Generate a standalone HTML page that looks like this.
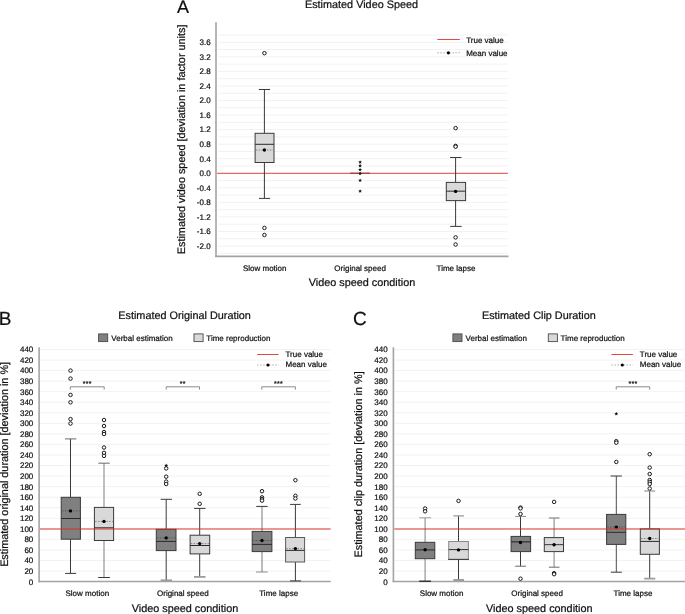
<!DOCTYPE html><html><head><meta charset="utf-8"><style>html,body{margin:0;padding:0;background:#fff;}svg{display:block;will-change:transform;}text{text-rendering:geometricPrecision;stroke:#111;stroke-width:0.22px;}</style></head><body>
<svg width="685" height="614" viewBox="0 0 685 614" font-family='"Liberation Sans", sans-serif'>
<rect width="685" height="614" fill="#fff"/>
<text x="177.10" y="13.20" font-size="18" text-anchor="start" fill="#111111" >A</text>
<text x="361.50" y="8.40" font-size="10.85" text-anchor="middle" fill="#111111" >Estimated Video Speed</text>
<line x1="218.00" y1="253.28" x2="508.00" y2="253.28" stroke="#f2f2f2" stroke-width="1" />
<line x1="218.00" y1="246.00" x2="508.00" y2="246.00" stroke="#f2f2f2" stroke-width="1" />
<line x1="218.00" y1="238.73" x2="508.00" y2="238.73" stroke="#f2f2f2" stroke-width="1" />
<line x1="218.00" y1="231.45" x2="508.00" y2="231.45" stroke="#f2f2f2" stroke-width="1" />
<line x1="218.00" y1="224.18" x2="508.00" y2="224.18" stroke="#f2f2f2" stroke-width="1" />
<line x1="218.00" y1="216.90" x2="508.00" y2="216.90" stroke="#f2f2f2" stroke-width="1" />
<line x1="218.00" y1="209.62" x2="508.00" y2="209.62" stroke="#f2f2f2" stroke-width="1" />
<line x1="218.00" y1="202.35" x2="508.00" y2="202.35" stroke="#f2f2f2" stroke-width="1" />
<line x1="218.00" y1="195.07" x2="508.00" y2="195.07" stroke="#f2f2f2" stroke-width="1" />
<line x1="218.00" y1="187.80" x2="508.00" y2="187.80" stroke="#f2f2f2" stroke-width="1" />
<line x1="218.00" y1="180.53" x2="508.00" y2="180.53" stroke="#f2f2f2" stroke-width="1" />
<line x1="218.00" y1="173.25" x2="508.00" y2="173.25" stroke="#f2f2f2" stroke-width="1" />
<line x1="218.00" y1="165.97" x2="508.00" y2="165.97" stroke="#f2f2f2" stroke-width="1" />
<line x1="218.00" y1="158.70" x2="508.00" y2="158.70" stroke="#f2f2f2" stroke-width="1" />
<line x1="218.00" y1="151.43" x2="508.00" y2="151.43" stroke="#f2f2f2" stroke-width="1" />
<line x1="218.00" y1="144.15" x2="508.00" y2="144.15" stroke="#f2f2f2" stroke-width="1" />
<line x1="218.00" y1="136.88" x2="508.00" y2="136.88" stroke="#f2f2f2" stroke-width="1" />
<line x1="218.00" y1="129.60" x2="508.00" y2="129.60" stroke="#f2f2f2" stroke-width="1" />
<line x1="218.00" y1="122.32" x2="508.00" y2="122.32" stroke="#f2f2f2" stroke-width="1" />
<line x1="218.00" y1="115.05" x2="508.00" y2="115.05" stroke="#f2f2f2" stroke-width="1" />
<line x1="218.00" y1="107.77" x2="508.00" y2="107.77" stroke="#f2f2f2" stroke-width="1" />
<line x1="218.00" y1="100.50" x2="508.00" y2="100.50" stroke="#f2f2f2" stroke-width="1" />
<line x1="218.00" y1="93.22" x2="508.00" y2="93.22" stroke="#f2f2f2" stroke-width="1" />
<line x1="218.00" y1="85.95" x2="508.00" y2="85.95" stroke="#f2f2f2" stroke-width="1" />
<line x1="218.00" y1="78.67" x2="508.00" y2="78.67" stroke="#f2f2f2" stroke-width="1" />
<line x1="218.00" y1="71.40" x2="508.00" y2="71.40" stroke="#f2f2f2" stroke-width="1" />
<line x1="218.00" y1="64.12" x2="508.00" y2="64.12" stroke="#f2f2f2" stroke-width="1" />
<line x1="218.00" y1="56.85" x2="508.00" y2="56.85" stroke="#f2f2f2" stroke-width="1" />
<line x1="218.00" y1="49.57" x2="508.00" y2="49.57" stroke="#f2f2f2" stroke-width="1" />
<line x1="218.00" y1="42.30" x2="508.00" y2="42.30" stroke="#f2f2f2" stroke-width="1" />
<line x1="218.00" y1="35.02" x2="508.00" y2="35.02" stroke="#f2f2f2" stroke-width="1" />
<text x="210.60" y="248.80" font-size="8" text-anchor="end" fill="#111111" >-2.0</text>
<text x="210.60" y="234.25" font-size="8" text-anchor="end" fill="#111111" >-1.6</text>
<text x="210.60" y="219.70" font-size="8" text-anchor="end" fill="#111111" >-1.2</text>
<text x="210.60" y="205.15" font-size="8" text-anchor="end" fill="#111111" >-0.8</text>
<text x="210.60" y="190.60" font-size="8" text-anchor="end" fill="#111111" >-0.4</text>
<text x="210.60" y="176.05" font-size="8" text-anchor="end" fill="#111111" >0.0</text>
<text x="210.60" y="161.50" font-size="8" text-anchor="end" fill="#111111" >0.4</text>
<text x="210.60" y="146.95" font-size="8" text-anchor="end" fill="#111111" >0.8</text>
<text x="210.60" y="132.40" font-size="8" text-anchor="end" fill="#111111" >1.2</text>
<text x="210.60" y="117.85" font-size="8" text-anchor="end" fill="#111111" >1.6</text>
<text x="210.60" y="103.30" font-size="8" text-anchor="end" fill="#111111" >2.0</text>
<text x="210.60" y="88.75" font-size="8" text-anchor="end" fill="#111111" >2.4</text>
<text x="210.60" y="74.20" font-size="8" text-anchor="end" fill="#111111" >2.8</text>
<text x="210.60" y="59.65" font-size="8" text-anchor="end" fill="#111111" >3.2</text>
<text x="210.60" y="45.10" font-size="8" text-anchor="end" fill="#111111" >3.6</text>
<text x="0" y="0" font-size="10.85" text-anchor="middle" fill="#111111" transform="translate(185.3,139.4) rotate(-90)">Estimated video speed [deviation in factor units]</text>
<line x1="216.00" y1="22.30" x2="216.00" y2="257.00" stroke="#a3a3a3" stroke-width="1.6" />
<line x1="215.20" y1="256.40" x2="508.50" y2="256.40" stroke="#a3a3a3" stroke-width="1.6" />
<line x1="350.00" y1="173.30" x2="370.00" y2="173.30" stroke="#444" stroke-width="1" />
<line x1="217.00" y1="173.30" x2="508.00" y2="173.30" stroke="#e4483f" stroke-width="1" />
<line x1="350.00" y1="173.30" x2="370.00" y2="173.30" stroke="#a8403a" stroke-width="1" />
<line x1="437.30" y1="39.50" x2="459.80" y2="39.50" stroke="#e4483f" stroke-width="1" />
<text x="466.20" y="42.60" font-size="8" text-anchor="start" fill="#111111" >True value</text>
<line x1="437.30" y1="52.80" x2="459.80" y2="52.80" stroke="#9a9a9a" stroke-width="0.8" stroke-dasharray="1.5 1.5"/>
<circle cx="448.40" cy="52.80" r="1.6" fill="#000" stroke="none" stroke-width="1"/>
<text x="466.20" y="55.70" font-size="8" text-anchor="start" fill="#111111" >Mean value</text>
<line x1="264.40" y1="89.50" x2="264.40" y2="133.30" stroke="#3a3a3a" stroke-width="1" />
<line x1="264.40" y1="162.50" x2="264.40" y2="198.40" stroke="#3a3a3a" stroke-width="1" />
<line x1="258.90" y1="89.50" x2="270.10" y2="89.50" stroke="#3a3a3a" stroke-width="1" />
<line x1="259.00" y1="198.40" x2="270.10" y2="198.40" stroke="#3a3a3a" stroke-width="1" />
<rect x="255.10" y="133.30" width="18.90" height="29.20" fill="#d9d9d9" stroke="#3a3a3a" stroke-width="1"/>
<line x1="255.10" y1="144.30" x2="274.00" y2="144.30" stroke="#2a2a2a" stroke-width="1" />
<line x1="255.90" y1="150.00" x2="273.20" y2="150.00" stroke="#777" stroke-width="0.9" stroke-dasharray="1.4 1.4"/>
<circle cx="264.40" cy="150.00" r="1.7" fill="#000" stroke="none" stroke-width="1"/>
<circle cx="264.40" cy="53.20" r="1.75" fill="#fff" stroke="#1a1a1a" stroke-width="1.0"/>
<circle cx="264.40" cy="227.90" r="1.75" fill="#fff" stroke="#1a1a1a" stroke-width="1.0"/>
<circle cx="264.40" cy="235.00" r="1.75" fill="#fff" stroke="#1a1a1a" stroke-width="1.0"/>
<polygon points="360.10,160.20 360.63,161.47 362.00,161.58 360.96,162.48 361.28,163.82 360.10,163.10 358.92,163.82 359.24,162.48 358.20,161.58 359.57,161.47" fill="#111"/>
<polygon points="360.10,163.80 360.63,165.07 362.00,165.18 360.96,166.08 361.28,167.42 360.10,166.70 358.92,167.42 359.24,166.08 358.20,165.18 359.57,165.07" fill="#111"/>
<polygon points="360.10,167.70 360.63,168.97 362.00,169.08 360.96,169.98 361.28,171.32 360.10,170.60 358.92,171.32 359.24,169.98 358.20,169.08 359.57,168.97" fill="#111"/>
<polygon points="360.10,171.50 360.63,172.77 362.00,172.88 360.96,173.78 361.28,175.12 360.10,174.40 358.92,175.12 359.24,173.78 358.20,172.88 359.57,172.77" fill="#111"/>
<polygon points="360.10,178.40 360.63,179.67 362.00,179.78 360.96,180.68 361.28,182.02 360.10,181.30 358.92,182.02 359.24,180.68 358.20,179.78 359.57,179.67" fill="#111"/>
<polygon points="360.10,189.20 360.63,190.47 362.00,190.58 360.96,191.48 361.28,192.82 360.10,192.10 358.92,192.82 359.24,191.48 358.20,190.58 359.57,190.47" fill="#111"/>
<line x1="455.60" y1="157.50" x2="455.60" y2="182.40" stroke="#3a3a3a" stroke-width="1" />
<line x1="455.60" y1="200.60" x2="455.60" y2="226.40" stroke="#3a3a3a" stroke-width="1" />
<line x1="450.10" y1="157.50" x2="461.50" y2="157.50" stroke="#3a3a3a" stroke-width="1" />
<line x1="450.20" y1="226.40" x2="461.70" y2="226.40" stroke="#3a3a3a" stroke-width="1" />
<rect x="446.30" y="182.40" width="19.30" height="18.20" fill="#d9d9d9" stroke="#3a3a3a" stroke-width="1"/>
<line x1="446.30" y1="191.20" x2="465.60" y2="191.20" stroke="#2a2a2a" stroke-width="1" />
<line x1="447.10" y1="191.40" x2="464.80" y2="191.40" stroke="#777" stroke-width="0.9" stroke-dasharray="1.4 1.4"/>
<circle cx="455.60" cy="191.40" r="1.7" fill="#000" stroke="none" stroke-width="1"/>
<circle cx="455.60" cy="128.10" r="1.75" fill="#fff" stroke="#1a1a1a" stroke-width="1.0"/>
<circle cx="455.60" cy="145.90" r="1.75" fill="#fff" stroke="#1a1a1a" stroke-width="1.0"/>
<circle cx="455.60" cy="146.70" r="1.75" fill="#fff" stroke="#1a1a1a" stroke-width="1.0"/>
<circle cx="455.60" cy="237.40" r="1.75" fill="#fff" stroke="#1a1a1a" stroke-width="1.0"/>
<circle cx="455.60" cy="244.50" r="1.75" fill="#fff" stroke="#1a1a1a" stroke-width="1.0"/>
<text x="264.70" y="270.50" font-size="8" text-anchor="middle" fill="#111111" >Slow motion</text>
<text x="360.10" y="270.50" font-size="8" text-anchor="middle" fill="#111111" >Original speed</text>
<text x="456.00" y="270.50" font-size="8" text-anchor="middle" fill="#111111" >Time lapse</text>
<text x="362.00" y="286.40" font-size="10.85" text-anchor="middle" fill="#111111" >Video speed condition</text>
<text x="-1.20" y="324.90" font-size="19" text-anchor="start" fill="#111111" >B</text>
<text x="184.60" y="319.10" font-size="10.85" text-anchor="middle" fill="#111111" >Estimated Original Duration</text>
<rect x="98.60" y="333.90" width="9.10" height="7.70" fill="#808080" stroke="#4a4a4a" stroke-width="0.9"/>
<text x="111.30" y="340.60" font-size="8" text-anchor="start" fill="#111111" >Verbal estimation</text>
<rect x="194.00" y="333.90" width="9.10" height="7.70" fill="#d9d9d9" stroke="#4a4a4a" stroke-width="0.9"/>
<text x="206.30" y="340.60" font-size="8" text-anchor="start" fill="#111111" >Time reproduction</text>
<line x1="40.00" y1="571.05" x2="330.50" y2="571.05" stroke="#f2f2f2" stroke-width="1" />
<line x1="40.00" y1="560.50" x2="330.50" y2="560.50" stroke="#f2f2f2" stroke-width="1" />
<line x1="40.00" y1="549.94" x2="330.50" y2="549.94" stroke="#f2f2f2" stroke-width="1" />
<line x1="40.00" y1="539.39" x2="330.50" y2="539.39" stroke="#f2f2f2" stroke-width="1" />
<line x1="40.00" y1="528.84" x2="330.50" y2="528.84" stroke="#f2f2f2" stroke-width="1" />
<line x1="40.00" y1="518.29" x2="330.50" y2="518.29" stroke="#f2f2f2" stroke-width="1" />
<line x1="40.00" y1="507.74" x2="330.50" y2="507.74" stroke="#f2f2f2" stroke-width="1" />
<line x1="40.00" y1="497.18" x2="330.50" y2="497.18" stroke="#f2f2f2" stroke-width="1" />
<line x1="40.00" y1="486.63" x2="330.50" y2="486.63" stroke="#f2f2f2" stroke-width="1" />
<line x1="40.00" y1="476.08" x2="330.50" y2="476.08" stroke="#f2f2f2" stroke-width="1" />
<line x1="40.00" y1="465.53" x2="330.50" y2="465.53" stroke="#f2f2f2" stroke-width="1" />
<line x1="40.00" y1="454.98" x2="330.50" y2="454.98" stroke="#f2f2f2" stroke-width="1" />
<line x1="40.00" y1="444.42" x2="330.50" y2="444.42" stroke="#f2f2f2" stroke-width="1" />
<line x1="40.00" y1="433.87" x2="330.50" y2="433.87" stroke="#f2f2f2" stroke-width="1" />
<line x1="40.00" y1="423.32" x2="330.50" y2="423.32" stroke="#f2f2f2" stroke-width="1" />
<line x1="40.00" y1="412.77" x2="330.50" y2="412.77" stroke="#f2f2f2" stroke-width="1" />
<line x1="40.00" y1="402.22" x2="330.50" y2="402.22" stroke="#f2f2f2" stroke-width="1" />
<line x1="40.00" y1="391.66" x2="330.50" y2="391.66" stroke="#f2f2f2" stroke-width="1" />
<line x1="40.00" y1="381.11" x2="330.50" y2="381.11" stroke="#f2f2f2" stroke-width="1" />
<line x1="40.00" y1="370.56" x2="330.50" y2="370.56" stroke="#f2f2f2" stroke-width="1" />
<line x1="40.00" y1="360.01" x2="330.50" y2="360.01" stroke="#f2f2f2" stroke-width="1" />
<line x1="40.00" y1="349.46" x2="330.50" y2="349.46" stroke="#f2f2f2" stroke-width="1" />
<text x="33.30" y="584.50" font-size="8" text-anchor="end" fill="#111111" >0</text>
<text x="33.30" y="573.95" font-size="8" text-anchor="end" fill="#111111" >20</text>
<text x="33.30" y="563.40" font-size="8" text-anchor="end" fill="#111111" >40</text>
<text x="33.30" y="552.84" font-size="8" text-anchor="end" fill="#111111" >60</text>
<text x="33.30" y="542.29" font-size="8" text-anchor="end" fill="#111111" >80</text>
<text x="33.30" y="531.74" font-size="8" text-anchor="end" fill="#111111" >100</text>
<text x="33.30" y="521.19" font-size="8" text-anchor="end" fill="#111111" >120</text>
<text x="33.30" y="510.64" font-size="8" text-anchor="end" fill="#111111" >140</text>
<text x="33.30" y="500.08" font-size="8" text-anchor="end" fill="#111111" >160</text>
<text x="33.30" y="489.53" font-size="8" text-anchor="end" fill="#111111" >180</text>
<text x="33.30" y="478.98" font-size="8" text-anchor="end" fill="#111111" >200</text>
<text x="33.30" y="468.43" font-size="8" text-anchor="end" fill="#111111" >220</text>
<text x="33.30" y="457.88" font-size="8" text-anchor="end" fill="#111111" >240</text>
<text x="33.30" y="447.32" font-size="8" text-anchor="end" fill="#111111" >260</text>
<text x="33.30" y="436.77" font-size="8" text-anchor="end" fill="#111111" >280</text>
<text x="33.30" y="426.22" font-size="8" text-anchor="end" fill="#111111" >300</text>
<text x="33.30" y="415.67" font-size="8" text-anchor="end" fill="#111111" >320</text>
<text x="33.30" y="405.12" font-size="8" text-anchor="end" fill="#111111" >340</text>
<text x="33.30" y="394.56" font-size="8" text-anchor="end" fill="#111111" >360</text>
<text x="33.30" y="384.01" font-size="8" text-anchor="end" fill="#111111" >380</text>
<text x="33.30" y="373.46" font-size="8" text-anchor="end" fill="#111111" >400</text>
<text x="33.30" y="362.91" font-size="8" text-anchor="end" fill="#111111" >420</text>
<text x="33.30" y="352.36" font-size="8" text-anchor="end" fill="#111111" >440</text>
<text x="0" y="0" font-size="10.85" text-anchor="middle" fill="#111111" transform="translate(8.00,464.4) rotate(-90)">Estimated original duration [deviation in %]</text>
<line x1="39.10" y1="347.30" x2="39.10" y2="582.20" stroke="#a3a3a3" stroke-width="1.6" />
<line x1="38.30" y1="581.50" x2="330.70" y2="581.50" stroke="#a3a3a3" stroke-width="1.6" />
<line x1="257.20" y1="354.50" x2="278.60" y2="354.50" stroke="#e4483f" stroke-width="1" />
<text x="285.50" y="357.20" font-size="8" text-anchor="start" fill="#111111" >True value</text>
<line x1="257.20" y1="365.00" x2="278.60" y2="365.00" stroke="#9a9a9a" stroke-width="0.8" stroke-dasharray="1.5 1.5"/>
<circle cx="268.00" cy="365.00" r="1.6" fill="#000" stroke="none" stroke-width="1"/>
<text x="285.50" y="367.40" font-size="8" text-anchor="start" fill="#111111" >Mean value</text>
<path d="M70.30,389.6 V386.8 H104.20 V389.6" fill="none" stroke="#8a8a8a" stroke-width="1"/>
<text x="87.25" y="386.30" font-size="7" text-anchor="middle" fill="#222" letter-spacing="0.3">***</text>
<path d="M166.20,389.6 V386.8 H199.50 V389.6" fill="none" stroke="#8a8a8a" stroke-width="1"/>
<text x="182.85" y="386.30" font-size="7" text-anchor="middle" fill="#222" letter-spacing="0.3">**</text>
<path d="M261.80,389.6 V386.8 H295.40 V389.6" fill="none" stroke="#8a8a8a" stroke-width="1"/>
<text x="278.60" y="386.30" font-size="7" text-anchor="middle" fill="#222" letter-spacing="0.3">***</text>
<line x1="70.50" y1="438.90" x2="70.50" y2="497.30" stroke="#3a3a3a" stroke-width="1" />
<line x1="70.50" y1="539.20" x2="70.50" y2="573.40" stroke="#3a3a3a" stroke-width="1" />
<line x1="65.00" y1="438.90" x2="76.30" y2="438.90" stroke="#6a6a6a" stroke-width="1" />
<line x1="65.10" y1="573.40" x2="76.20" y2="573.40" stroke="#3a3a3a" stroke-width="1" />
<rect x="61.20" y="497.30" width="19.20" height="41.90" fill="#808080" stroke="#3a3a3a" stroke-width="1"/>
<line x1="61.20" y1="518.50" x2="80.40" y2="518.50" stroke="#2a2a2a" stroke-width="1" />
<line x1="62.00" y1="510.90" x2="79.60" y2="510.90" stroke="#505050" stroke-width="0.9" stroke-dasharray="1.4 1.4"/>
<circle cx="70.50" cy="510.90" r="1.7" fill="#000" stroke="none" stroke-width="1"/>
<circle cx="70.50" cy="370.60" r="1.75" fill="#fff" stroke="#1a1a1a" stroke-width="1.0"/>
<circle cx="70.50" cy="378.60" r="1.75" fill="#fff" stroke="#1a1a1a" stroke-width="1.0"/>
<circle cx="70.50" cy="394.90" r="1.75" fill="#fff" stroke="#1a1a1a" stroke-width="1.0"/>
<circle cx="70.50" cy="402.30" r="1.75" fill="#fff" stroke="#1a1a1a" stroke-width="1.0"/>
<circle cx="70.50" cy="419.10" r="1.75" fill="#fff" stroke="#1a1a1a" stroke-width="1.0"/>
<circle cx="70.50" cy="423.50" r="1.75" fill="#fff" stroke="#1a1a1a" stroke-width="1.0"/>
<line x1="104.00" y1="463.20" x2="104.00" y2="507.40" stroke="#9d9d9d" stroke-width="1.3" />
<line x1="104.00" y1="540.50" x2="104.00" y2="577.50" stroke="#9d9d9d" stroke-width="1.3" />
<line x1="98.40" y1="463.20" x2="109.70" y2="463.20" stroke="#6a6a6a" stroke-width="1" />
<line x1="98.20" y1="577.50" x2="109.90" y2="577.50" stroke="#3a3a3a" stroke-width="1" />
<rect x="94.40" y="507.40" width="19.20" height="33.10" fill="#d9d9d9" stroke="#3a3a3a" stroke-width="1"/>
<line x1="94.40" y1="527.80" x2="113.60" y2="527.80" stroke="#2a2a2a" stroke-width="1" />
<line x1="95.20" y1="521.40" x2="112.80" y2="521.40" stroke="#777" stroke-width="0.9" stroke-dasharray="1.4 1.4"/>
<circle cx="104.00" cy="521.40" r="1.7" fill="#000" stroke="none" stroke-width="1"/>
<circle cx="104.00" cy="420.00" r="1.75" fill="#fff" stroke="#1a1a1a" stroke-width="1.0"/>
<circle cx="104.00" cy="426.00" r="1.75" fill="#fff" stroke="#1a1a1a" stroke-width="1.0"/>
<circle cx="104.00" cy="432.00" r="1.75" fill="#fff" stroke="#1a1a1a" stroke-width="1.0"/>
<circle cx="104.00" cy="434.00" r="1.75" fill="#fff" stroke="#1a1a1a" stroke-width="1.0"/>
<circle cx="104.00" cy="447.50" r="1.75" fill="#fff" stroke="#1a1a1a" stroke-width="1.0"/>
<circle cx="104.00" cy="452.90" r="1.75" fill="#fff" stroke="#1a1a1a" stroke-width="1.0"/>
<circle cx="104.00" cy="455.90" r="1.75" fill="#fff" stroke="#1a1a1a" stroke-width="1.0"/>
<line x1="166.20" y1="499.30" x2="166.20" y2="529.30" stroke="#3a3a3a" stroke-width="1" />
<line x1="166.20" y1="550.60" x2="166.20" y2="580.30" stroke="#3a3a3a" stroke-width="1" />
<line x1="160.60" y1="499.30" x2="172.00" y2="499.30" stroke="#3a3a3a" stroke-width="1" />
<line x1="160.60" y1="580.30" x2="172.00" y2="580.30" stroke="#9d9d9d" stroke-width="1.8" />
<rect x="156.30" y="529.30" width="19.70" height="21.30" fill="#808080" stroke="#3a3a3a" stroke-width="1"/>
<line x1="156.30" y1="541.40" x2="176.00" y2="541.40" stroke="#2a2a2a" stroke-width="1" />
<line x1="157.10" y1="537.90" x2="175.20" y2="537.90" stroke="#505050" stroke-width="0.9" stroke-dasharray="1.4 1.4"/>
<circle cx="166.20" cy="537.90" r="1.7" fill="#000" stroke="none" stroke-width="1"/>
<circle cx="166.20" cy="468.40" r="1.75" fill="#fff" stroke="#1a1a1a" stroke-width="1.0"/>
<circle cx="166.20" cy="476.70" r="1.75" fill="#fff" stroke="#1a1a1a" stroke-width="1.0"/>
<circle cx="166.20" cy="481.60" r="1.75" fill="#fff" stroke="#1a1a1a" stroke-width="1.0"/>
<circle cx="166.20" cy="484.00" r="1.75" fill="#fff" stroke="#1a1a1a" stroke-width="1.0"/>
<polygon points="166.20,463.60 166.73,464.87 168.10,464.98 167.06,465.88 167.38,467.22 166.20,466.50 165.02,467.22 165.34,465.88 164.30,464.98 165.67,464.87" fill="#111"/>
<line x1="199.70" y1="508.40" x2="199.70" y2="535.20" stroke="#3a3a3a" stroke-width="1" />
<line x1="199.70" y1="553.90" x2="199.70" y2="576.90" stroke="#3a3a3a" stroke-width="1" />
<line x1="194.00" y1="508.40" x2="205.50" y2="508.40" stroke="#3a3a3a" stroke-width="1" />
<line x1="194.00" y1="576.90" x2="205.50" y2="576.90" stroke="#9d9d9d" stroke-width="1.8" />
<rect x="190.10" y="535.20" width="19.60" height="18.70" fill="#d9d9d9" stroke="#3a3a3a" stroke-width="1"/>
<line x1="190.10" y1="545.50" x2="209.70" y2="545.50" stroke="#2a2a2a" stroke-width="1" />
<line x1="190.90" y1="543.60" x2="208.90" y2="543.60" stroke="#777" stroke-width="0.9" stroke-dasharray="1.4 1.4"/>
<circle cx="199.70" cy="543.60" r="1.7" fill="#000" stroke="none" stroke-width="1"/>
<circle cx="199.70" cy="493.80" r="1.75" fill="#fff" stroke="#1a1a1a" stroke-width="1.0"/>
<circle cx="199.70" cy="503.80" r="1.75" fill="#fff" stroke="#1a1a1a" stroke-width="1.0"/>
<line x1="262.00" y1="506.40" x2="262.00" y2="531.40" stroke="#777" stroke-width="1" />
<line x1="262.00" y1="551.60" x2="262.00" y2="572.00" stroke="#777" stroke-width="1" />
<line x1="256.20" y1="506.40" x2="267.70" y2="506.40" stroke="#3a3a3a" stroke-width="1" />
<line x1="256.10" y1="572.00" x2="267.70" y2="572.00" stroke="#888" stroke-width="1" />
<rect x="252.20" y="531.40" width="19.70" height="20.20" fill="#808080" stroke="#3a3a3a" stroke-width="1"/>
<line x1="252.20" y1="544.40" x2="271.90" y2="544.40" stroke="#2a2a2a" stroke-width="1" />
<line x1="253.00" y1="540.50" x2="271.10" y2="540.50" stroke="#505050" stroke-width="0.9" stroke-dasharray="1.4 1.4"/>
<circle cx="262.00" cy="540.50" r="1.7" fill="#000" stroke="none" stroke-width="1"/>
<circle cx="262.00" cy="491.20" r="1.75" fill="#fff" stroke="#1a1a1a" stroke-width="1.0"/>
<circle cx="262.00" cy="497.40" r="1.75" fill="#fff" stroke="#1a1a1a" stroke-width="1.0"/>
<circle cx="262.00" cy="499.00" r="1.75" fill="#fff" stroke="#1a1a1a" stroke-width="1.0"/>
<circle cx="262.00" cy="500.60" r="1.75" fill="#fff" stroke="#1a1a1a" stroke-width="1.0"/>
<line x1="295.40" y1="504.40" x2="295.40" y2="537.50" stroke="#3a3a3a" stroke-width="1" />
<line x1="295.40" y1="562.00" x2="295.40" y2="580.90" stroke="#3a3a3a" stroke-width="1" />
<line x1="290.00" y1="504.40" x2="300.70" y2="504.40" stroke="#3a3a3a" stroke-width="1" />
<line x1="290.00" y1="580.90" x2="301.00" y2="580.90" stroke="#3a3a3a" stroke-width="1" />
<rect x="285.60" y="537.50" width="19.00" height="24.50" fill="#d9d9d9" stroke="#5a5a5a" stroke-width="1"/>
<line x1="285.60" y1="550.40" x2="304.60" y2="550.40" stroke="#2a2a2a" stroke-width="1" />
<line x1="286.40" y1="548.60" x2="303.80" y2="548.60" stroke="#777" stroke-width="0.9" stroke-dasharray="1.4 1.4"/>
<circle cx="295.40" cy="548.60" r="1.7" fill="#000" stroke="none" stroke-width="1"/>
<circle cx="295.40" cy="480.20" r="1.75" fill="#fff" stroke="#1a1a1a" stroke-width="1.0"/>
<circle cx="295.40" cy="495.80" r="1.75" fill="#fff" stroke="#1a1a1a" stroke-width="1.0"/>
<circle cx="295.40" cy="498.50" r="1.75" fill="#fff" stroke="#1a1a1a" stroke-width="1.0"/>
<line x1="40.00" y1="529.00" x2="330.70" y2="529.00" stroke="rgba(222,40,30,0.47)" stroke-width="1.9" />
<text x="87.30" y="595.80" font-size="8" text-anchor="middle" fill="#111111" >Slow motion</text>
<text x="182.80" y="595.80" font-size="8" text-anchor="middle" fill="#111111" >Original speed</text>
<text x="278.70" y="595.80" font-size="8" text-anchor="middle" fill="#111111" >Time lapse</text>
<text x="185.00" y="611.50" font-size="10.85" text-anchor="middle" fill="#111111" >Video speed condition</text>
<text x="352.90" y="325.20" font-size="19" text-anchor="start" fill="#111111" >C</text>
<text x="538.90" y="319.10" font-size="10.85" text-anchor="middle" fill="#111111" >Estimated Clip Duration</text>
<rect x="452.90" y="333.90" width="9.10" height="7.70" fill="#808080" stroke="#4a4a4a" stroke-width="0.9"/>
<text x="465.60" y="340.60" font-size="8" text-anchor="start" fill="#111111" >Verbal estimation</text>
<rect x="548.30" y="333.90" width="9.10" height="7.70" fill="#d9d9d9" stroke="#4a4a4a" stroke-width="0.9"/>
<text x="560.60" y="340.60" font-size="8" text-anchor="start" fill="#111111" >Time reproduction</text>
<line x1="394.30" y1="571.05" x2="684.80" y2="571.05" stroke="#f2f2f2" stroke-width="1" />
<line x1="394.30" y1="560.50" x2="684.80" y2="560.50" stroke="#f2f2f2" stroke-width="1" />
<line x1="394.30" y1="549.94" x2="684.80" y2="549.94" stroke="#f2f2f2" stroke-width="1" />
<line x1="394.30" y1="539.39" x2="684.80" y2="539.39" stroke="#f2f2f2" stroke-width="1" />
<line x1="394.30" y1="528.84" x2="684.80" y2="528.84" stroke="#f2f2f2" stroke-width="1" />
<line x1="394.30" y1="518.29" x2="684.80" y2="518.29" stroke="#f2f2f2" stroke-width="1" />
<line x1="394.30" y1="507.74" x2="684.80" y2="507.74" stroke="#f2f2f2" stroke-width="1" />
<line x1="394.30" y1="497.18" x2="684.80" y2="497.18" stroke="#f2f2f2" stroke-width="1" />
<line x1="394.30" y1="486.63" x2="684.80" y2="486.63" stroke="#f2f2f2" stroke-width="1" />
<line x1="394.30" y1="476.08" x2="684.80" y2="476.08" stroke="#f2f2f2" stroke-width="1" />
<line x1="394.30" y1="465.53" x2="684.80" y2="465.53" stroke="#f2f2f2" stroke-width="1" />
<line x1="394.30" y1="454.98" x2="684.80" y2="454.98" stroke="#f2f2f2" stroke-width="1" />
<line x1="394.30" y1="444.42" x2="684.80" y2="444.42" stroke="#f2f2f2" stroke-width="1" />
<line x1="394.30" y1="433.87" x2="684.80" y2="433.87" stroke="#f2f2f2" stroke-width="1" />
<line x1="394.30" y1="423.32" x2="684.80" y2="423.32" stroke="#f2f2f2" stroke-width="1" />
<line x1="394.30" y1="412.77" x2="684.80" y2="412.77" stroke="#f2f2f2" stroke-width="1" />
<line x1="394.30" y1="402.22" x2="684.80" y2="402.22" stroke="#f2f2f2" stroke-width="1" />
<line x1="394.30" y1="391.66" x2="684.80" y2="391.66" stroke="#f2f2f2" stroke-width="1" />
<line x1="394.30" y1="381.11" x2="684.80" y2="381.11" stroke="#f2f2f2" stroke-width="1" />
<line x1="394.30" y1="370.56" x2="684.80" y2="370.56" stroke="#f2f2f2" stroke-width="1" />
<line x1="394.30" y1="360.01" x2="684.80" y2="360.01" stroke="#f2f2f2" stroke-width="1" />
<line x1="394.30" y1="349.46" x2="684.80" y2="349.46" stroke="#f2f2f2" stroke-width="1" />
<text x="387.60" y="584.50" font-size="8" text-anchor="end" fill="#111111" >0</text>
<text x="387.60" y="573.95" font-size="8" text-anchor="end" fill="#111111" >20</text>
<text x="387.60" y="563.40" font-size="8" text-anchor="end" fill="#111111" >40</text>
<text x="387.60" y="552.84" font-size="8" text-anchor="end" fill="#111111" >60</text>
<text x="387.60" y="542.29" font-size="8" text-anchor="end" fill="#111111" >80</text>
<text x="387.60" y="531.74" font-size="8" text-anchor="end" fill="#111111" >100</text>
<text x="387.60" y="521.19" font-size="8" text-anchor="end" fill="#111111" >120</text>
<text x="387.60" y="510.64" font-size="8" text-anchor="end" fill="#111111" >140</text>
<text x="387.60" y="500.08" font-size="8" text-anchor="end" fill="#111111" >160</text>
<text x="387.60" y="489.53" font-size="8" text-anchor="end" fill="#111111" >180</text>
<text x="387.60" y="478.98" font-size="8" text-anchor="end" fill="#111111" >200</text>
<text x="387.60" y="468.43" font-size="8" text-anchor="end" fill="#111111" >220</text>
<text x="387.60" y="457.88" font-size="8" text-anchor="end" fill="#111111" >240</text>
<text x="387.60" y="447.32" font-size="8" text-anchor="end" fill="#111111" >260</text>
<text x="387.60" y="436.77" font-size="8" text-anchor="end" fill="#111111" >280</text>
<text x="387.60" y="426.22" font-size="8" text-anchor="end" fill="#111111" >300</text>
<text x="387.60" y="415.67" font-size="8" text-anchor="end" fill="#111111" >320</text>
<text x="387.60" y="405.12" font-size="8" text-anchor="end" fill="#111111" >340</text>
<text x="387.60" y="394.56" font-size="8" text-anchor="end" fill="#111111" >360</text>
<text x="387.60" y="384.01" font-size="8" text-anchor="end" fill="#111111" >380</text>
<text x="387.60" y="373.46" font-size="8" text-anchor="end" fill="#111111" >400</text>
<text x="387.60" y="362.91" font-size="8" text-anchor="end" fill="#111111" >420</text>
<text x="387.60" y="352.36" font-size="8" text-anchor="end" fill="#111111" >440</text>
<text x="0" y="0" font-size="10.85" text-anchor="middle" fill="#111111" transform="translate(362.30,464.4) rotate(-90)">Estimated clip duration [deviation in %]</text>
<line x1="393.40" y1="347.30" x2="393.40" y2="582.20" stroke="#a3a3a3" stroke-width="1.6" />
<line x1="392.60" y1="581.50" x2="685.00" y2="581.50" stroke="#a3a3a3" stroke-width="1.6" />
<line x1="611.50" y1="354.50" x2="632.90" y2="354.50" stroke="#e4483f" stroke-width="1" />
<text x="639.80" y="357.20" font-size="8" text-anchor="start" fill="#111111" >True value</text>
<line x1="611.50" y1="365.00" x2="632.90" y2="365.00" stroke="#9a9a9a" stroke-width="0.8" stroke-dasharray="1.5 1.5"/>
<circle cx="622.30" cy="365.00" r="1.6" fill="#000" stroke="none" stroke-width="1"/>
<text x="639.80" y="367.40" font-size="8" text-anchor="start" fill="#111111" >Mean value</text>
<path d="M616.20,389.6 V386.8 H649.70 V389.6" fill="none" stroke="#8a8a8a" stroke-width="1"/>
<text x="632.95" y="386.30" font-size="7" text-anchor="middle" fill="#222" letter-spacing="0.3">***</text>
<line x1="425.10" y1="517.80" x2="425.10" y2="542.30" stroke="#9d9d9d" stroke-width="1.3" />
<line x1="425.10" y1="558.70" x2="425.10" y2="581.20" stroke="#9d9d9d" stroke-width="1.3" />
<line x1="419.20" y1="517.80" x2="431.00" y2="517.80" stroke="#9d9d9d" stroke-width="1" />
<line x1="419.20" y1="581.20" x2="431.00" y2="581.20" stroke="#1a1a1a" stroke-width="1.2" />
<rect x="415.30" y="542.30" width="19.50" height="16.40" fill="#808080" stroke="#3a3a3a" stroke-width="1"/>
<line x1="415.30" y1="549.90" x2="434.80" y2="549.90" stroke="#2a2a2a" stroke-width="1" />
<line x1="416.10" y1="549.70" x2="434.00" y2="549.70" stroke="#505050" stroke-width="0.9" stroke-dasharray="1.4 1.4"/>
<circle cx="425.10" cy="549.70" r="1.7" fill="#000" stroke="none" stroke-width="1"/>
<circle cx="425.10" cy="508.50" r="1.75" fill="#fff" stroke="#1a1a1a" stroke-width="1.0"/>
<circle cx="425.10" cy="511.30" r="1.75" fill="#fff" stroke="#1a1a1a" stroke-width="1.0"/>
<line x1="458.50" y1="515.90" x2="458.50" y2="541.50" stroke="#3a3a3a" stroke-width="1" />
<line x1="458.50" y1="559.40" x2="458.50" y2="580.00" stroke="#3a3a3a" stroke-width="1" />
<line x1="453.40" y1="515.90" x2="464.00" y2="515.90" stroke="#9d9d9d" stroke-width="1.3" />
<line x1="453.40" y1="580.00" x2="464.00" y2="580.00" stroke="#9d9d9d" stroke-width="2" />
<rect x="448.70" y="541.50" width="19.70" height="17.90" fill="#d9d9d9" stroke="#8a8a8a" stroke-width="1"/>
<line x1="448.20" y1="559.40" x2="468.90" y2="559.40" stroke="#3a3a3a" stroke-width="1" />
<line x1="448.70" y1="549.50" x2="468.40" y2="549.50" stroke="#2a2a2a" stroke-width="1" />
<line x1="449.50" y1="549.90" x2="467.60" y2="549.90" stroke="#777" stroke-width="0.9" stroke-dasharray="1.4 1.4"/>
<circle cx="458.50" cy="549.90" r="1.7" fill="#000" stroke="none" stroke-width="1"/>
<circle cx="458.50" cy="500.90" r="1.75" fill="#fff" stroke="#1a1a1a" stroke-width="1.0"/>
<line x1="520.50" y1="516.40" x2="520.50" y2="536.40" stroke="#3a3a3a" stroke-width="1" />
<line x1="520.50" y1="551.60" x2="520.50" y2="566.20" stroke="#3a3a3a" stroke-width="1" />
<line x1="515.20" y1="516.40" x2="526.00" y2="516.40" stroke="#888888" stroke-width="1" />
<line x1="515.20" y1="566.20" x2="526.00" y2="566.20" stroke="#6a6a6a" stroke-width="1" />
<rect x="511.10" y="536.40" width="19.50" height="15.20" fill="#808080" stroke="#3a3a3a" stroke-width="1"/>
<line x1="511.10" y1="541.80" x2="530.60" y2="541.80" stroke="#2a2a2a" stroke-width="1" />
<line x1="511.90" y1="542.50" x2="529.80" y2="542.50" stroke="#505050" stroke-width="0.9" stroke-dasharray="1.4 1.4"/>
<circle cx="520.50" cy="542.50" r="1.7" fill="#000" stroke="none" stroke-width="1"/>
<circle cx="520.50" cy="507.60" r="1.75" fill="#fff" stroke="#1a1a1a" stroke-width="1.0"/>
<circle cx="520.50" cy="508.40" r="1.75" fill="#fff" stroke="#1a1a1a" stroke-width="1.0"/>
<circle cx="520.50" cy="514.00" r="1.75" fill="#fff" stroke="#1a1a1a" stroke-width="1.0"/>
<circle cx="520.50" cy="578.70" r="1.75" fill="#fff" stroke="#1a1a1a" stroke-width="1.0"/>
<line x1="554.10" y1="518.00" x2="554.10" y2="537.60" stroke="#9d9d9d" stroke-width="1.3" />
<line x1="554.10" y1="551.60" x2="554.10" y2="567.20" stroke="#9d9d9d" stroke-width="1.3" />
<line x1="548.90" y1="518.00" x2="559.50" y2="518.00" stroke="#888888" stroke-width="1.2" />
<line x1="548.90" y1="567.20" x2="559.50" y2="567.20" stroke="#6a6a6a" stroke-width="1" />
<rect x="544.30" y="537.60" width="19.20" height="14.00" fill="#d9d9d9" stroke="#3a3a3a" stroke-width="1"/>
<line x1="544.30" y1="544.60" x2="563.50" y2="544.60" stroke="#2a2a2a" stroke-width="1" />
<line x1="545.10" y1="544.70" x2="562.70" y2="544.70" stroke="#777" stroke-width="0.9" stroke-dasharray="1.4 1.4"/>
<circle cx="554.10" cy="544.70" r="1.7" fill="#000" stroke="none" stroke-width="1"/>
<circle cx="554.10" cy="501.90" r="1.75" fill="#fff" stroke="#1a1a1a" stroke-width="1.0"/>
<circle cx="554.10" cy="573.20" r="1.75" fill="#fff" stroke="#1a1a1a" stroke-width="1.0"/>
<circle cx="554.10" cy="574.20" r="1.75" fill="#fff" stroke="#1a1a1a" stroke-width="1.0"/>
<line x1="616.30" y1="476.00" x2="616.30" y2="514.40" stroke="#4a4a4a" stroke-width="1" />
<line x1="616.30" y1="544.40" x2="616.30" y2="572.20" stroke="#4a4a4a" stroke-width="1" />
<line x1="610.50" y1="476.00" x2="621.90" y2="476.00" stroke="#3a3a3a" stroke-width="1" />
<line x1="610.80" y1="572.20" x2="621.90" y2="572.20" stroke="#3a3a3a" stroke-width="1" />
<rect x="606.60" y="514.40" width="19.20" height="30.00" fill="#808080" stroke="#3a3a3a" stroke-width="1"/>
<line x1="606.60" y1="532.30" x2="625.80" y2="532.30" stroke="#2a2a2a" stroke-width="1" />
<line x1="607.40" y1="527.10" x2="625.00" y2="527.10" stroke="#505050" stroke-width="0.9" stroke-dasharray="1.4 1.4"/>
<circle cx="616.30" cy="527.10" r="1.7" fill="#000" stroke="none" stroke-width="1"/>
<circle cx="616.30" cy="441.20" r="1.75" fill="#fff" stroke="#1a1a1a" stroke-width="1.0"/>
<circle cx="616.30" cy="442.70" r="1.75" fill="#fff" stroke="#1a1a1a" stroke-width="1.0"/>
<circle cx="616.30" cy="461.90" r="1.75" fill="#fff" stroke="#1a1a1a" stroke-width="1.0"/>
<polygon points="616.30,411.80 616.83,413.07 618.20,413.18 617.16,414.08 617.48,415.42 616.30,414.70 615.12,415.42 615.44,414.08 614.40,413.18 615.77,413.07" fill="#111"/>
<line x1="649.70" y1="491.00" x2="649.70" y2="528.90" stroke="#3a3a3a" stroke-width="1" />
<line x1="649.70" y1="554.30" x2="649.70" y2="578.60" stroke="#3a3a3a" stroke-width="1" />
<line x1="644.20" y1="491.00" x2="655.20" y2="491.00" stroke="#9d9d9d" stroke-width="1.3" />
<line x1="644.20" y1="578.60" x2="655.30" y2="578.60" stroke="#9d9d9d" stroke-width="1.8" />
<rect x="640.30" y="528.90" width="19.10" height="25.40" fill="#d9d9d9" stroke="#3a3a3a" stroke-width="1"/>
<line x1="640.30" y1="541.40" x2="659.40" y2="541.40" stroke="#2a2a2a" stroke-width="1" />
<line x1="641.10" y1="538.50" x2="658.60" y2="538.50" stroke="#777" stroke-width="0.9" stroke-dasharray="1.4 1.4"/>
<circle cx="649.70" cy="538.50" r="1.7" fill="#000" stroke="none" stroke-width="1"/>
<circle cx="649.70" cy="454.20" r="1.75" fill="#fff" stroke="#1a1a1a" stroke-width="1.0"/>
<circle cx="649.70" cy="467.60" r="1.75" fill="#fff" stroke="#1a1a1a" stroke-width="1.0"/>
<circle cx="649.70" cy="474.00" r="1.75" fill="#fff" stroke="#1a1a1a" stroke-width="1.0"/>
<circle cx="649.70" cy="480.00" r="1.75" fill="#fff" stroke="#1a1a1a" stroke-width="1.0"/>
<circle cx="649.70" cy="482.00" r="1.75" fill="#fff" stroke="#1a1a1a" stroke-width="1.0"/>
<circle cx="649.70" cy="484.00" r="1.75" fill="#fff" stroke="#1a1a1a" stroke-width="1.0"/>
<circle cx="649.70" cy="488.50" r="1.75" fill="#fff" stroke="#1a1a1a" stroke-width="1.0"/>
<line x1="394.30" y1="529.00" x2="685.00" y2="529.00" stroke="rgba(222,40,30,0.47)" stroke-width="1.9" />
<text x="441.60" y="595.80" font-size="8" text-anchor="middle" fill="#111111" >Slow motion</text>
<text x="537.10" y="595.80" font-size="8" text-anchor="middle" fill="#111111" >Original speed</text>
<text x="633.00" y="595.80" font-size="8" text-anchor="middle" fill="#111111" >Time lapse</text>
<text x="539.30" y="611.50" font-size="10.85" text-anchor="middle" fill="#111111" >Video speed condition</text>
</svg></body></html>
